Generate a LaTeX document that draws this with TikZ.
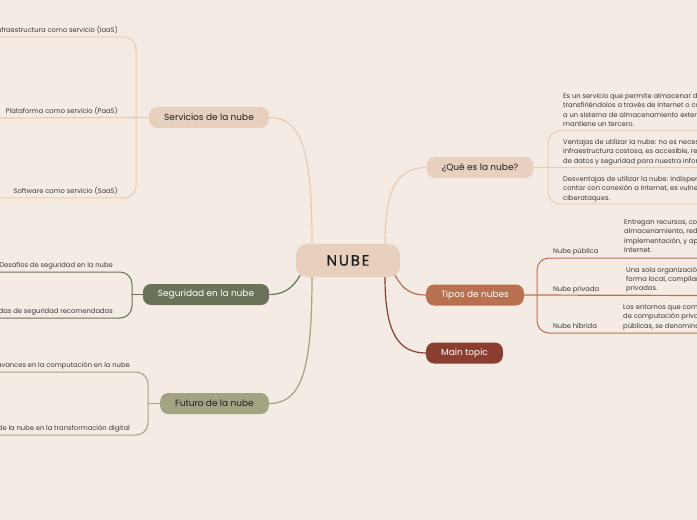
\documentclass[tikz,border=0pt]{standalone}
\usepackage{fontspec}
\setmainfont{Poppins}
\usepackage{tikz}
\usetikzlibrary{positioning, calc}
\definecolor{canvas}{HTML}{F4ECE4}
\definecolor{peach}{HTML}{E8D0BF}
\definecolor{peachline}{HTML}{E6CCB8}
\definecolor{olive}{HTML}{6A7257}
\definecolor{sage}{HTML}{A3A283}
\definecolor{terra}{HTML}{B8704F}
\definecolor{brick}{HTML}{8B3E2F}
\definecolor{ink}{HTML}{1E1E1E}
\definecolor{leafink}{HTML}{3B3836}
\tikzset{
  central/.style={fill=peach, rounded corners=11bp, minimum width=104bp,
                  minimum height=33bp, inner sep=0pt, text=ink,
                  font=\fontsize{15}{18}\selectfont\addfontfeatures{LetterSpace=12, FakeBold=0.5}},
  topic/.style  ={rounded corners=8bp, minimum height=21bp, inner xsep=15bp,
                  inner ysep=0pt, font=\fontsize{9}{10}\selectfont},
  topicp/.style ={topic, fill=peach, text=ink},
  topico/.style ={topic, fill=olive, text=white},
  topics/.style ={topic, fill=sage,  text=ink},
  topict/.style ={topic, fill=terra, text=white},
  topicb/.style ={topic, fill=brick, text=white},
  leaf/.style   ={inner sep=0pt, text=leafink, font=\fontsize{6.8}{8}\selectfont},
  para/.style   ={leaf, align=left, font=\fontsize{6.8}{9.4}\selectfont},
  branch/.style ={line width=1.2bp},
  twig/.style   ={line width=1bp, rounded corners=12bp}
}
\begin{document}
\begin{tikzpicture}[x=1bp, y=-1bp]
  \fill[canvas] (0,0) rectangle (697,520);
  \clip (0,0) rectangle (697,520);

  % centro y ramas
  \node[central] (nube)  at (348,260.5)   {NUBE};
  \node[topicp]  (serv)  at (209,117.5)   {Servicios de la nube};
  \node[topicp]  (que)   at (480,167.5)   {¿Qué es la nube?};
  \node[topico]  (seg)   at (206,294.5)   {Seguridad en la nube};
  \node[topict]  (tipos) at (475,295)     {Tipos de nubes};
  \node[topics]  (fut)   at (214.5,403.5) {Futuro de la nube};
  \node[topicb]  (mainb) at (464.5,353)   {Main topic};

  \draw[branch, peachline] ($(nube.north)+(-36,0)$) .. controls +(0,-95) and +(32,0) .. (serv.east);
  \draw[branch, peachline] ($(nube.north)+(37,0)$)  .. controls +(0,-50) and +(-32,0) .. (que.west);
  \draw[branch, olive]     ($(nube.south)+(-48,-2)$) .. controls +(-8,15) and +(12,0) .. (seg.east);
  \draw[branch, sage]      ($(nube.south)+(-36,0)$)  .. controls +(0,95) and +(32,0) .. (fut.east);
  \draw[branch, terra]     ($(nube.south)+(47,-2)$)  .. controls +(8,15) and +(-14,0) .. (tipos.west);
  \draw[branch, brick]     ($(nube.south)+(37,0)$)   .. controls +(0,55) and +(-28,0) .. (mainb.west);

  % Servicios de la nube
  \coordinate (serv-j) at (136,117.5);
  \coordinate (iaas-e) at (-5,37);
  \coordinate (paas-e) at (-5,118);
  \coordinate (saas-e) at (-5,198);
  \node[leaf, anchor=base east] (iaas) at (118,32.5)  {Infraestructura como servicio (IaaS)};
  \node[leaf, anchor=base east] (paas) at (118,113.5) {Plataforma como servicio (PaaS)};
  \node[leaf, anchor=base east] (saas) at (118,193.5) {Software como servicio (SaaS)};
  \draw[branch, peachline] (serv.west) -- (paas-e);
  \draw[twig, peachline] (iaas-e) -- (iaas-e -| serv-j) -- (saas-e -| serv-j) -- (saas-e);

  % Seguridad en la nube
  \coordinate (seg-j) at (132,294.5);
  \coordinate (desa-e) at (-5,272);
  \coordinate (medi-e) at (-5,318);
  \node[leaf, anchor=base east] (desa) at (113,267.5) {Desafíos de seguridad en la nube};
  \node[leaf, anchor=base east] (medi) at (113,313.5) {Medidas de seguridad recomendadas};
  \draw[branch, olive] (seg.west) -- (seg-j);
  \draw[twig, olive] (desa-e) -- (desa-e -| seg-j) -- (medi-e -| seg-j) -- (medi-e);

  % Futuro de la nube
  \coordinate (fut-j) at (148,403.5);
  \coordinate (avan-e) at (-5,372);
  \coordinate (tran-e) at (-5,435);
  \node[leaf, anchor=base east] (avan) at (130,367.5) {Últimos avances en la computación en la nube};
  \node[leaf, anchor=base east] (tran) at (130,430.5) {Impacto de la nube en la transformación digital};
  \draw[branch, sage] (fut.west) -- (fut-j);
  \draw[twig, sage] (avan-e) -- (avan-e -| fut-j) -- (tran-e -| fut-j) -- (tran-e);

  % ¿Qué es la nube?
  \coordinate (que-j) at (548,167.5);
  \coordinate (def-e)  at (705,131);
  \coordinate (vent-e) at (705,167.5);
  \coordinate (desv-e) at (705,204);
  \node[para, anchor=north west] (def) at (563,93)
    {Es un servicio que permite almacenar datos\\
     transfiriéndolos a través de Internet o con\\
     a un sistema de almacenamiento externo que\\
     mantiene un tercero.};
  \node[para, anchor=north west] (vent) at (563,139)
    {Ventajas de utilizar la nube: no es necesaria una\\
     infraestructura costosa, es accesible, respaldo\\
     de datos y seguridad para nuestra información.};
  \node[para, anchor=north west] (desv) at (563,176)
    {Desventajas de utilizar la nube: indispensable\\
     contar con conexión a Internet, es vulnerable a\\
     ciberataques.};
  \draw[branch, peachline] (que.east) -- (vent-e);
  \draw[twig, peachline] (def-e) -- (def-e -| que-j) -- (desv-e -| que-j) -- (desv-e);

  % Tipos de nubes
  \coordinate (tipos-j) at (537,295.5);
  \coordinate (publ-e) at (705,258);
  \coordinate (priv-e) at (705,295.5);
  \coordinate (hibr-e) at (705,333);
  \node[leaf, anchor=base west] (publ) at (553,253.5) {Nube pública};
  \node[leaf, anchor=base west] (priv) at (553,291)   {Nube privada};
  \node[leaf, anchor=base west] (hibr) at (553,328.5) {Nube híbrida};
  \node[para, anchor=north west] (publ-d) at (624,219.5)
    {Entregan recursos, como\\
     almacenamiento, red,\\
     implementación, y aplicaciones\\
     Internet.};
  \node[para, anchor=north west] (priv-d) at (626,266.5)
    {Una sola organización opera\\
     forma local, compilando nubes\\
     privadas.};
  \node[para, anchor=north west] (hibr-d) at (623,304)
    {Los entornos que combinan nubes\\
     de computación privadas y\\
     públicas, se denominan híbridos};
  \draw[branch, terra] (tipos.east) -- (priv-e);
  \draw[twig, terra] (publ-e) -- (publ-e -| tipos-j) -- (hibr-e -| tipos-j) -- (hibr-e);
\end{tikzpicture}
\end{document}
